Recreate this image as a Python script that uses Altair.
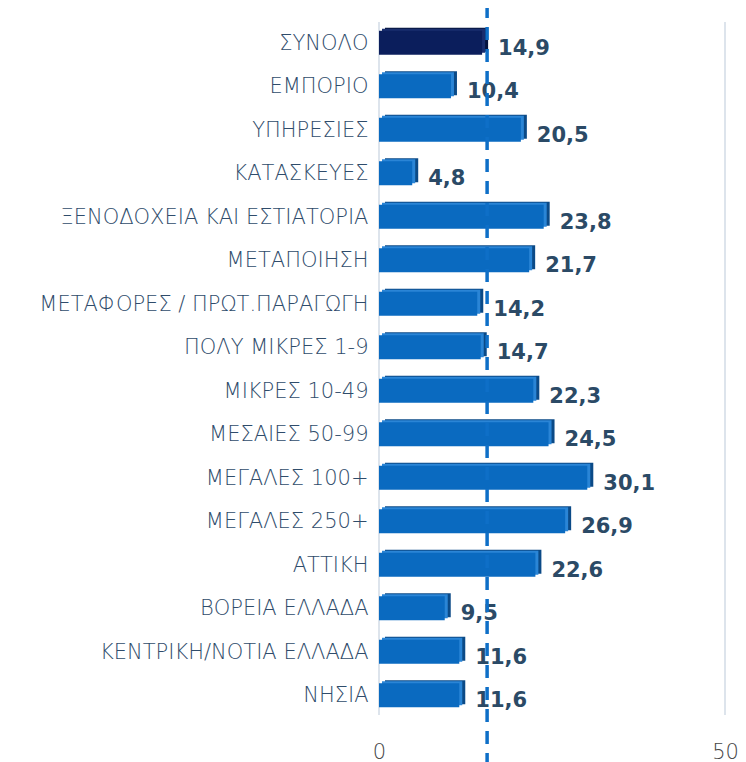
import altair as alt
import pandas as pd

categories = ["ΣΥΝΟΛΟ", "ΕΜΠΟΡΙΟ", "ΥΠΗΡΕΣΙΕΣ", "ΚΑΤΑΣΚΕΥΕΣ",
              "ΞΕΝΟΔΟΧΕΙΑ ΚΑΙ ΕΣΤΙΑΤΟΡΙΑ", "ΜΕΤΑΠΟΙΗΣΗ",
              "ΜΕΤΑΦΟΡΕΣ / ΠΡΩΤ.ΠΑΡΑΓΩΓΗ", "ΠΟΛΥ ΜΙΚΡΕΣ 1-9", "ΜΙΚΡΕΣ 10-49",
              "ΜΕΣΑΙΕΣ 50-99", "ΜΕΓΑΛΕΣ 100+", "ΜΕΓΑΛΕΣ 250+", "ΑΤΤΙΚΗ",
              "ΒΟΡΕΙΑ ΕΛΛΑΔΑ", "ΚΕΝΤΡΙΚΗ/ΝΟΤΙΑ ΕΛΛΑΔΑ", "ΝΗΣΙΑ"]
values = [14.9, 10.4, 20.5, 4.8, 23.8, 21.7, 14.2, 14.7, 22.3, 24.5,
          30.1, 26.9, 22.6, 9.5, 11.6, 11.6]
axis_ticks = [0, 50]
total_label = "ΣΥΝΟΛΟ"

df = pd.DataFrame({"cat": categories, "value": values})
grid_df = pd.DataFrame({"value": axis_ticks})

W, H = 346, 696
FONT = "DejaVu Sans"
is_total = f"datum.cat === '{total_label}'"

y_enc = alt.Y("cat:N", sort=categories,
              scale=alt.Scale(paddingInner=0.45, paddingOuter=0.225),
              axis=alt.Axis(title=None, domain=False, ticks=False, labelPadding=11,
                            labelFont=FONT, labelFontSize=21, labelFontWeight=300,
                            labelColor="#2F4C6B", labelLimit=400))
x_enc = alt.X("value:Q", scale=alt.Scale(domain=[0, 50], nice=False),
              axis=alt.Axis(values=axis_ticks, title=None, grid=False, domain=False,
                            ticks=False, labelFontSize=21, labelColor="#454545",
                            labelFont=FONT, labelFontWeight=300, labelPadding=23,
                            labelFlush=False))

grid = alt.Chart(grid_df).mark_rule(color="#DDE4EC", strokeWidth=2).encode(
    x=alt.X("value:Q"), y=alt.value(0), y2=alt.value(H - 3))

back = alt.Chart(df).mark_bar(xOffset=6, yOffset=-4).encode(
    x=x_enc, y=y_enc,
    color=alt.condition(is_total, alt.value("#06143F"), alt.value("#0B4A87")))

top = alt.Chart(df).mark_bar(xOffset=3, yOffset=-3).encode(
    x="value:Q", y=alt.Y("cat:N", sort=categories),
    color=alt.condition(is_total, alt.value("#1A2E6E"), alt.value("#2A85D6")))

front = alt.Chart(df).mark_bar(yOffset=-1).encode(
    x="value:Q", y=alt.Y("cat:N", sort=categories),
    color=alt.condition(is_total, alt.value("#0B1E5C"), alt.value("#0A6AC0")))

text = alt.Chart(df).transform_calculate(
    label="replace(format(datum.value, '.1f'), '.', ',')"
).mark_text(align="left", baseline="middle", dx=16, dy=5, font=FONT,
            fontSize=21, fontWeight="bold", color="#2B4A66").encode(
    x="value:Q", y=alt.Y("cat:N", sort=categories), text="label:N")

rule = alt.Chart(df).transform_filter(is_total).mark_rule(
    strokeDash=[13, 9], strokeWidth=3.5, color="#0E6FC7", xOffset=5
).encode(x="value:Q", y=alt.value(-17), y2=alt.value(H + 44))

chart = alt.layer(grid, back, top, front, text, rule).properties(
    width=W, height=H,
    padding={"left": 371, "top": 14, "right": 13, "bottom": 46},
    autosize="none",
).configure_view(stroke=None)

chart.save("out.html", embed_options={"renderer": "svg", "actions": False})
